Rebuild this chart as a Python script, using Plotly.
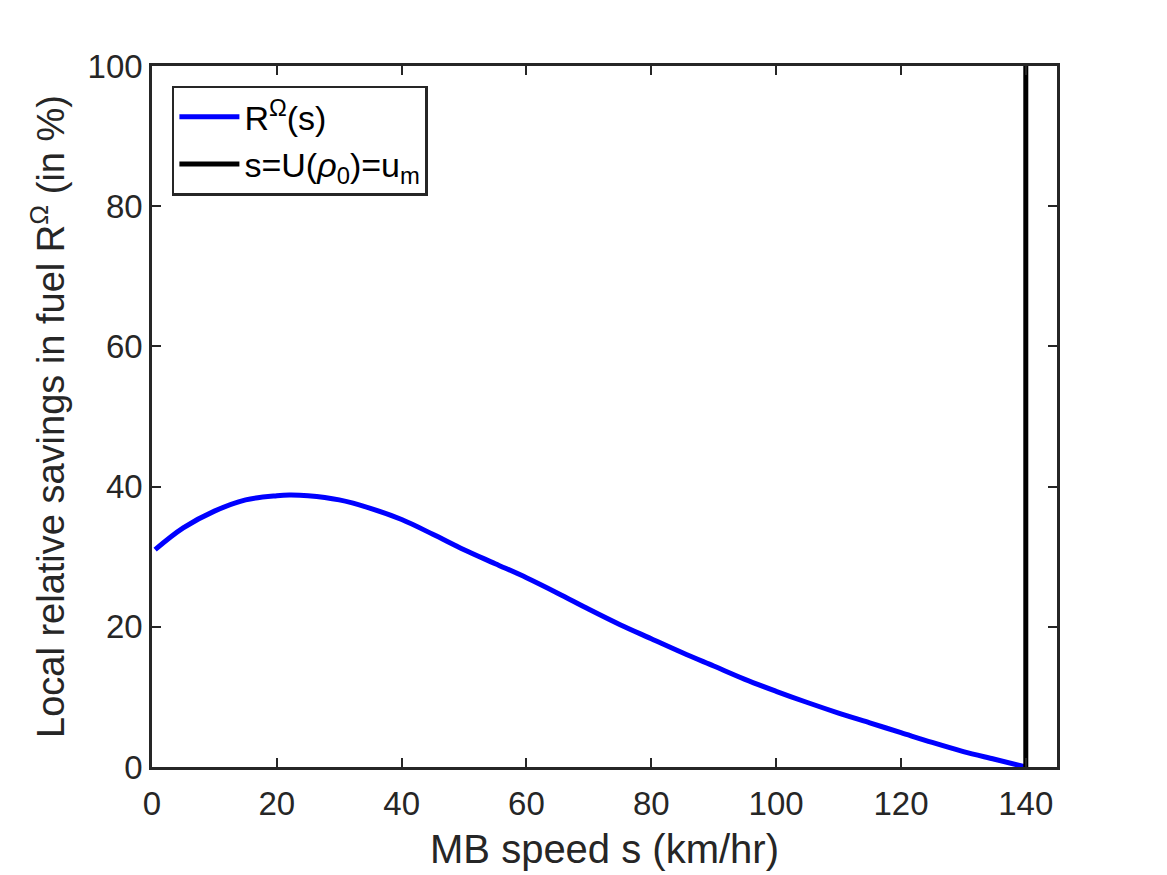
import plotly.graph_objects as go

# Data
speed_s = [0.5, 5, 10, 15, 20, 22, 25, 30, 35, 40, 45, 50, 55, 60, 65, 70, 75,
           80, 85, 90, 95, 100, 105, 110, 115, 120, 125, 130, 135, 140]
savings_R = [31.0, 34.1, 36.5, 38.1, 38.7, 38.8, 38.7, 38.1, 36.9, 35.3, 33.2,
             31.0, 29.0, 27.0, 24.8, 22.5, 20.3, 18.3, 16.3, 14.4, 12.5, 10.8,
             9.2, 7.7, 6.3, 4.9, 3.5, 2.2, 1.1, 0.0]
u_m = 140
vline_y = [0, 100]

x_ticks = [0, 20, 40, 60, 80, 100, 120, 140]
y_ticks = [0, 20, 40, 60, 80, 100]

FONT = "Liberation Sans, Arial, Helvetica, sans-serif"
AX = "#262626"

fig = go.Figure()
fig.add_trace(go.Scatter(x=speed_s, y=savings_R, mode="lines",
                         line=dict(color="#0000ff", width=5, shape="spline", smoothing=1),
                         name="R<sup>Ω</sup>(s)"))
fig.add_trace(go.Scatter(x=[u_m, u_m], y=vline_y, mode="lines",
                         line=dict(color="#000000", width=5),
                         name="s=U(<i>ρ</i><sub>0</sub>)=u<sub>m</sub>"))

axis_common = dict(showline=True, linecolor=AX, linewidth=2.5, mirror="ticks",
                   ticks="inside", ticklen=9, tickwidth=2, tickcolor=AX,
                   showgrid=False, zeroline=False,
                   tickfont=dict(family=FONT, size=33, color=AX))

fig.update_layout(
    width=1167, height=875,
    margin=dict(l=144, r=118, t=58, b=116),
    paper_bgcolor="white", plot_bgcolor="white",
    font=dict(family=FONT, color=AX),
    xaxis=dict(range=[0, 145], tickvals=x_ticks, ticklabelstandoff=6,
               title=dict(text="MB speed s (km/hr)", font=dict(size=40, color=AX), standoff=14),
               **axis_common),
    yaxis=dict(range=[0, 100], tickvals=y_ticks,
               title=dict(text="Local relative savings in fuel R<sup>Ω</sup> (in %)",
                          font=dict(size=38, color=AX), standoff=12),
               **axis_common),
    legend=dict(x=0.022, y=0.972, xanchor="left", yanchor="top",
                bgcolor="white", bordercolor=AX, borderwidth=2.5,
                font=dict(family=FONT, size=34, color="#000000"),
                itemwidth=60, tracegroupgap=0),
    showlegend=True,
)

fig.write_html("out.html")
